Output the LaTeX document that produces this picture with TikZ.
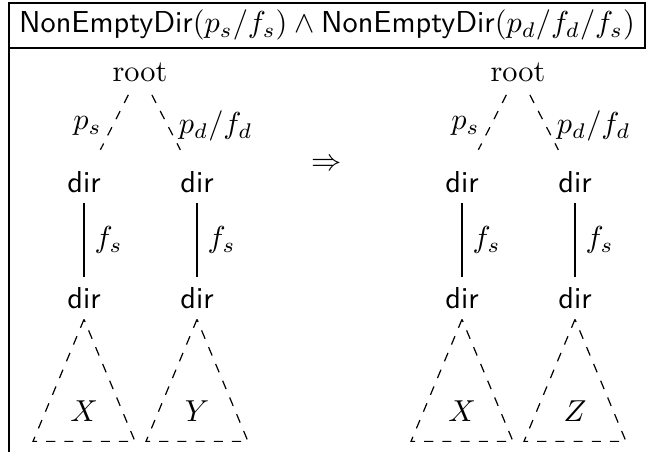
\documentclass[tikz,border=0pt]{standalone}
\usepackage{amsmath,amssymb}
\usetikzlibrary{positioning,calc}

\begin{document}
\begin{tikzpicture}[x=0.33pt,y=-0.33pt,
                    dirnode/.style={font=\sffamily},
                    pathedge/.style={dashed,shorten <=1pt,shorten >=4pt},
                    subtree/.style={dashed}]
  \useasboundingbox (0,0) rectangle (652,452);
  % frame of the rule
  \draw (9,452) |- (645,3) -- (645,48) -- (9,48);
  \node (head) at (327,25)
    {\textsf{NonEmptyDir}$(p_s/f_s)\wedge{}$\textsf{NonEmptyDir}$(p_d/f_d/f_s)$};

  % left side
  \node              (rootL) at (140,72)  {root};
  \node[dirnode]     (dsL)   at (84,182)  {dir};
  \node[dirnode]     (ddL)   at (197,182) {dir};
  \node[dirnode]     (fsL)   at (84,298)  {dir};
  \node[dirnode]     (fdL)   at (197,298) {dir};
  \draw[pathedge] (rootL) -- node[left]  {$p_s$}     (dsL);
  \draw[pathedge] (rootL) -- node[right] {$p_d/f_d$} (ddL);
  \draw (dsL) -- node[right] {$f_s$} (fsL);
  \draw (ddL) -- node[right] {$f_s$} (fdL);
  \draw[subtree] (fsL.south) -- ++(-51,122) -- ++(102,0) -- cycle;
  \draw[subtree] (fdL.south) -- ++(-51,122) -- ++(102,0) -- cycle;
  \node (xL) at ($(fsL.south)+(0,92)$) {$X$};
  \node (yL) at ($(fdL.south)+(0,92)$) {$Y$};

  \node (impl) at (327,165) {$\Rightarrow$};

  % right side
  \node              (rootR) at (518,72)  {root};
  \node[dirnode]     (dsR)   at (462,182) {dir};
  \node[dirnode]     (ddR)   at (575,182) {dir};
  \node[dirnode]     (fsR)   at (462,298) {dir};
  \node[dirnode]     (fdR)   at (575,298) {dir};
  \draw[pathedge] (rootR) -- node[left]  {$p_s$}     (dsR);
  \draw[pathedge] (rootR) -- node[right] {$p_d/f_d$} (ddR);
  \draw (dsR) -- node[right] {$f_s$} (fsR);
  \draw (ddR) -- node[right] {$f_s$} (fdR);
  \draw[subtree] (fsR.south) -- ++(-51,122) -- ++(102,0) -- cycle;
  \draw[subtree] (fdR.south) -- ++(-51,122) -- ++(102,0) -- cycle;
  \node (xR) at ($(fsR.south)+(0,92)$) {$X$};
  \node (zR) at ($(fdR.south)+(0,92)$) {$Z$};
\end{tikzpicture}
\end{document}
